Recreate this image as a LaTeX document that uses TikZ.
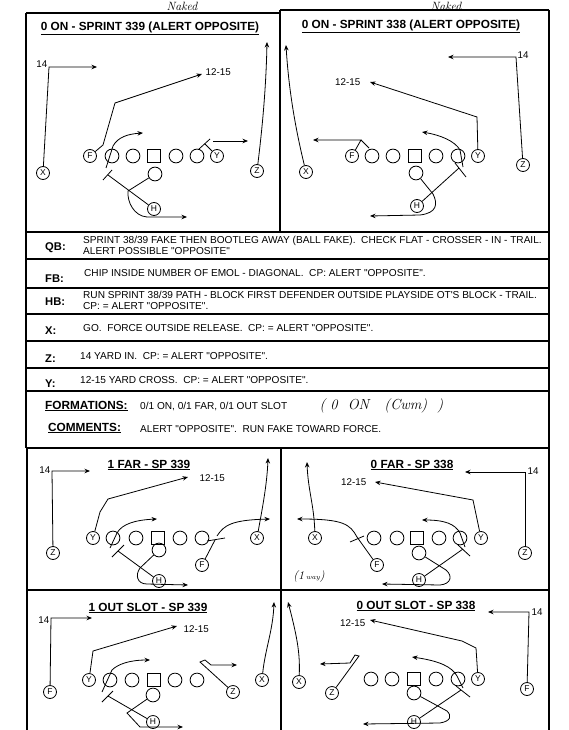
\documentclass[tikz,border=0pt]{standalone}
\usepackage{fontspec}
\newfontfamily\arial{Liberation Sans}
\usetikzlibrary{arrows.meta}
\begin{document}
\begin{tikzpicture}[x=1pt,y=-1pt,
  frame/.style={line width=1.1pt},
  man/.style={circle,draw,line width=0.8pt,minimum size=13pt,inner sep=0pt,font=\arial\fontsize{8.5}{8.5}\selectfont},
  ol/.style={circle,draw,line width=0.8pt,minimum size=13.8pt,inner sep=0pt},
  ctr/.style={rectangle,draw,line width=0.8pt,minimum size=13.5pt,inner sep=0pt},
  rt/.style={line width=0.8pt,-{Stealth[length=5.5pt,width=4.5pt]}},
  bk/.style={line width=0.8pt},
  ttl/.style={font=\arial\bfseries\fontsize{11.8}{12}\selectfont},
  yd/.style={inner sep=0.5pt,font=\arial\fontsize{9.8}{10}\selectfont},
  lbl/.style={anchor=base west,inner sep=0pt,font=\arial\bfseries\fontsize{11.2}{12}\selectfont},
  txt/.style={anchor=base west,inner sep=0pt,font=\arial\fontsize{10.1}{11}\selectfont},
  hand/.style={font=\itshape\fontsize{12}{12}\selectfont}
]
\useasboundingbox (0,0) rectangle (569,730);
\fill[white] (0,0) rectangle (569,730);

% ---------- frames ----------
\draw[frame] (26,13) -- (280,13);
\draw[frame] (280,10) -- (549,10);
\draw[frame] (26,13) -- (26,448);
\draw[frame] (549,10) -- (549,448);
\draw[frame] (280,10) -- (280,232);
\foreach \yy in {232,259,288,314,341,368,391,448}
  \draw[frame] (26,\yy) -- (549,\yy);
\draw[frame] (27,448) -- (27,730);
\draw[frame] (281,448) -- (281,730);
\draw[frame] (549,448) -- (549,730);
\draw[frame] (27,590) -- (549,590);

% ---------- handwriting ----------
\node[hand] (nk1) at (182,6) {Naked};
\node[hand] (nk2) at (446,6) {Naked};
\node[hand,anchor=west,font=\itshape\fontsize{14.5}{14.5}\selectfont] (hw1) at (316,406) {( 0 \ ON \ \ (Cwm) \ )};
\node[hand] (hw2) at (309,576) {(1\,{\scriptsize way})};

% ---------- text rows ----------
\node[lbl] (qbl) at (45,250) {QB:};
\node[txt] (qbt1) at (83,243.5) {SPRINT 38/39 FAKE THEN BOOTLEG AWAY (BALL FAKE).\ \ CHECK FLAT - CROSSER - IN - TRAIL.};
\node[txt] (qbt2) at (83,254) {ALERT POSSIBLE "OPPOSITE"};
\node[lbl] (fbl) at (45,282) {FB:};
\node[txt] (fbt) at (84,276) {CHIP INSIDE NUMBER OF EMOL - DIAGONAL.\ \ CP: ALERT "OPPOSITE".};
\node[lbl] (hbl) at (45,305) {HB:};
\node[txt] (hbt1) at (83,298) {RUN SPRINT 38/39 PATH - BLOCK FIRST DEFENDER OUTSIDE PLAYSIDE OT'S BLOCK - TRAIL.};
\node[txt] (hbt2) at (83,309.5) {CP: = ALERT "OPPOSITE".};
\node[lbl] (xl) at (45,334) {X:};
\node[txt] (xt) at (83,331) {GO.\ \ FORCE OUTSIDE RELEASE.\ \ CP: = ALERT "OPPOSITE".};
\node[lbl] (zl) at (45,362) {Z:};
\node[txt] (zt) at (80,359) {14 YARD IN.\ \ CP: = ALERT "OPPOSITE".};
\node[lbl] (yl) at (45,387) {Y:};
\node[txt] (yt) at (80,383) {12-15 YARD CROSS.\ \ CP: = ALERT "OPPOSITE".};
\node[lbl,font=\arial\bfseries\fontsize{11.8}{12}\selectfont] (fml) at (45,409) {\underline{FORMATIONS:}};
\node[txt] (fmt) at (140,409) {0/1 ON, 0/1 FAR, 0/1 OUT SLOT};
\node[lbl,font=\arial\bfseries\fontsize{11.8}{12}\selectfont] (cml) at (48,431) {\underline{COMMENTS:}};
\node[txt] (cmt) at (140,432) {ALERT "OPPOSITE".\ \ RUN FAKE TOWARD FORCE.};

% ================= play A: 0 ON - SPRINT 339 =================
\node[ttl] (at) at (150,28) {\underline{0 ON - SPRINT 339 (ALERT OPPOSITE)}};
\node[man] (aF) at (90,156) {F};
\node[ol] (aLT) at (112,156) {};
\node[ol] (aLG) at (133,156) {};
\node[ctr] (aC) at (154,156) {};
\node[ol] (aRG) at (176,156) {};
\node[ol] (aRT) at (197,156) {};
\node[man] (aY) at (217,156) {Y};
\node[man] (aX) at (43,173) {X};
\node[ol] (aQ) at (155,174) {};
\node[man] (aH) at (154,209) {H};
\node[man] (aZ) at (257,171) {Z};
\draw[rt] (aX) -- (49,67) -- (97,67);
\node[yd,anchor=east] (a14) at (48,64) {14};
\draw[rt] (aF) -- (103,145) -- (115,103) -- (202,74);
\node[yd,anchor=west] (a1215) at (205,72) {12-15};
\draw[rt] (aZ) .. controls (262,130) and (266,90) .. (267,42);
\draw[rt] (106,168) -- (113,146) .. controls (118,137) and (128,134) .. (143,133);
\draw[bk] (aY) -- (205,144);
\draw[bk] (199,149) -- (210,139);
\draw[rt] (213,141) -- (248,141);
\draw[bk] (aH) -- (108,175);
\draw[bk] (103,180) -- (112,170);
\draw[rt] (aQ) -- (128,191) .. controls (127,202) and (134,216) .. (147,217) -- (187,217);

% ================= play B: 0 ON - SPRINT 338 =================
\node[ttl] (bt) at (411,26) {\underline{0 ON - SPRINT 338 (ALERT OPPOSITE)}};
\node[man] (bF) at (352,156) {F};
\node[ol] (bLT) at (372,156) {};
\node[ol] (bLG) at (393,156) {};
\node[ctr] (bC) at (415,156) {};
\node[ol] (bRG) at (436,156) {};
\node[ol] (bRT) at (458,156) {};
\node[man] (bY) at (478,156) {Y};
\node[man] (bX) at (306,172) {X};
\node[ol] (bQ) at (416,173) {};
\node[man] (bH) at (417,206) {H};
\node[man] (bZ) at (523,165) {Z};
\draw[rt] (bX) .. controls (297,135) and (289,95) .. (286,45);
\draw[rt] (bZ) -- (516,57) -- (448,57);
\node[yd,anchor=west] (b14) at (517,55) {14};
\draw[rt] (bY) -- (477,117) -- (370,82);
\node[yd,anchor=east] (b1215) at (361,82) {12-15};
\draw[rt] (bF) -- (361,140) -- (313,140);
\draw[bk] (361,140) -- (369,148);
\draw[rt] (463,167) -- (460,150) .. controls (455,141) and (440,135) .. (422,132);
\draw[bk] (bH) -- (459,168);
\draw[bk] (455,163) -- (466,177);
\draw[rt] (bQ) -- (433,194) .. controls (438,204) and (437,213) .. (420,215) -- (370,216);

% ================= play C: 1 FAR - SP 339 =================
\node[ttl] (ct) at (149,465) {\underline{1 FAR - SP 339}};
\node[man] (cY) at (93,538) {Y};
\node[ol] (cLT) at (113,538) {};
\node[ol] (cLG) at (136,538) {};
\node[ctr] (cC) at (158,538) {};
\node[ol] (cRG) at (180,538) {};
\node[ol] (cRT) at (202,538) {};
\node[man] (cX) at (257,538) {X};
\node[man] (cZ) at (53,553) {Z};
\node[ol] (cQ) at (159,550) {};
\node[man] (cF) at (202,565) {F};
\node[man] (cH) at (159,581) {H};
\draw[rt] (cZ) -- (52,471) -- (90,471);
\node[yd,anchor=east] (c14) at (51,470) {14};
\draw[rt] (cY) -- (100,512) -- (108,499) -- (188,477);
\node[yd,anchor=west] (c1215) at (199,478) {12-15};
\draw[rt] (110,548) -- (117,533) .. controls (122,524) and (135,520) .. (157,519);
\draw[bk] (cH) -- (118,551);
\draw[bk] (112,557) -- (124,545);
\draw[rt] (cQ) -- (140,568) .. controls (135,575) and (137,584) .. (147,584) -- (188,585);
\draw[bk] (cF) -- (215,540);
\draw[bk] (207,541) -- (225,538);
\draw[rt] (217,536) .. controls (224,525) and (232,520) .. (270,519);
\draw[rt] (cX) .. controls (262,510) and (267,485) .. (268,458);

% ================= play D: 0 FAR - SP 338 =================
\node[ttl] (dt) at (412,465) {\underline{0 FAR - SP 338}};
\node[ol] (dLT) at (374,538) {};
\node[ol] (dLG) at (397,538) {};
\node[ctr] (dC) at (417,538) {};
\node[ol] (dRG) at (439,538) {};
\node[ol] (dRT) at (460,538) {};
\node[man] (dY) at (481,538) {Y};
\node[man] (dX) at (315,538) {X};
\node[ol] (dQ) at (419,553) {};
\node[man] (dF) at (377,565) {F};
\node[man] (dH) at (419,580) {H};
\node[man] (dZ) at (525,553) {Z};
\draw[rt] (dX) .. controls (314,505) and (308,490) .. (307,462);
\draw[rt] (dZ) -- (525,472) -- (465,472);
\node[yd,anchor=west] (d14) at (527,471) {14};
\draw[rt] (dY) -- (473,500) -- (375,482);
\node[yd,anchor=east] (d1215) at (367,482) {12-15};
\draw[bk] (dF) -- (357,537);
\draw[bk] (350,542) -- (364,536);
\draw[rt] (357,537) .. controls (350,524) and (343,519) .. (297,519);
\draw[rt] (465,547) -- (460,533) .. controls (455,524) and (445,520) .. (422,520);
\draw[bk] (dH) -- (463,549);
\draw[bk] (458,545) -- (470,556);
\draw[rt] (dQ) -- (446,570) .. controls (453,576) and (451,584) .. (440,585) -- (382,584);

% ================= play E: 1 OUT SLOT - SP 339 =================
\node[ttl] (et) at (148,608) {\underline{1 OUT SLOT - SP 339}};
\node[man] (eY) at (89,680) {Y};
\node[ol] (eLT) at (110,680) {};
\node[ol] (eLG) at (132,680) {};
\node[ctr] (eC) at (154,680) {};
\node[ol] (eRG) at (175,680) {};
\node[ol] (eRT) at (197,680) {};
\node[man] (eX) at (262,680) {X};
\node[man] (eF) at (50,692) {F};
\node[ol] (eQ) at (153,695) {};
\node[man] (eZ) at (233,692) {Z};
\node[man] (eH) at (153,722) {H};
\draw[rt] (eF) -- (51,618) -- (92,618);
\node[yd,anchor=east] (e14) at (50,620) {14};
\draw[rt] (eY) -- (93,651) -- (177,626);
\node[yd,anchor=west] (e1215) at (183,629) {12-15};
\draw[rt] (102,692) -- (112,670) .. controls (118,664) and (130,660) .. (150,660);
\draw[bk] (eH) -- (108,696);
\draw[bk] (102,702) -- (113,691);
\draw[rt] (eQ) -- (127,713) -- (140,727) -- (183,727);
\draw[rt] (eZ) -- (200,662) -- (205,660) -- (211,665) -- (237,665);
\draw[rt] (eX) .. controls (265,650) and (273,630) .. (274,602);

% ================= play F: 0 OUT SLOT - SP 338 =================
\node[ttl] (ft) at (416,606) {\underline{0 OUT SLOT - SP 338}};
\node[ol] (fLT) at (371,679) {};
\node[ol] (fLG) at (392,679) {};
\node[ctr] (fC) at (414,679) {};
\node[ol] (fRG) at (436,679) {};
\node[ol] (fRT) at (458,679) {};
\node[man] (fY) at (478,679) {Y};
\node[man] (fX) at (299,682) {X};
\node[man] (fZ) at (332,693) {Z};
\node[ol] (fQ) at (414,693) {};
\node[man] (fH) at (414,722) {H};
\node[man] (fF) at (527,689) {F};
\draw[rt] (fX) .. controls (300,655) and (298,640) .. (288,602);
\draw[rt] (fF) -- (529,612) -- (488,612);
\node[yd,anchor=west] (f14) at (531,612) {14};
\draw[rt] (fY) -- (476,648) -- (462,641) -- (370,620);
\node[yd,anchor=east] (f1215) at (366,623) {12-15};
\draw[rt] (fZ) -- (359,656) -- (355,655) -- (350,663) -- (320,664);
\draw[rt] (463,688) -- (457,676) .. controls (452,667) and (440,661) .. (412,657);
\draw[bk] (fH) -- (461,690);
\draw[bk] (456,686) -- (470,697);
\draw[rt] (fQ) -- (447,711) .. controls (452,716) and (451,721) .. (440,723) -- (363,724);
\end{tikzpicture}
\end{document}
